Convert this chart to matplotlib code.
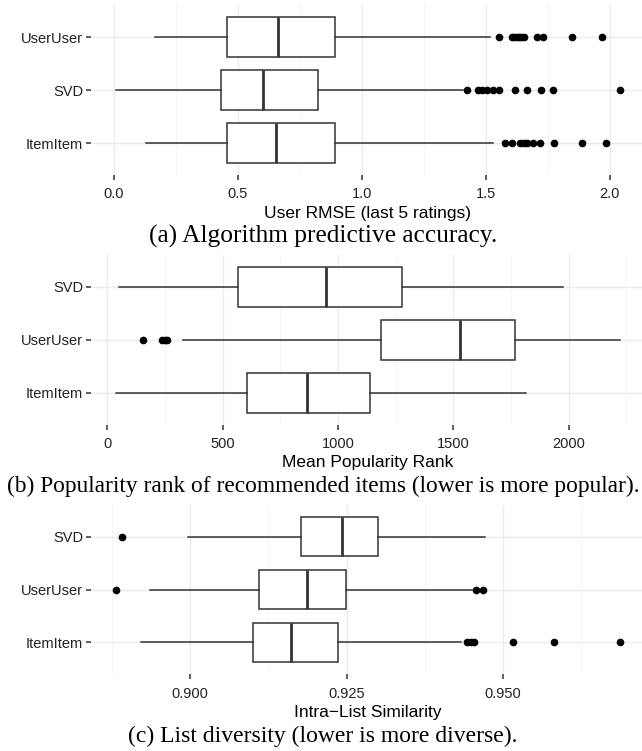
import matplotlib
matplotlib.use("Agg")
import matplotlib.pyplot as plt
from matplotlib.ticker import MultipleLocator

plt.rcParams['font.family'] = ['Liberation Sans', 'DejaVu Sans']

# panel (a): user RMSE, rows listed top to bottom
rmse_algos = ["UserUser", "SVD", "ItemItem"]
rmse_whislo = [0.166, 0.009, 0.130]
rmse_q1 = [0.456, 0.430, 0.455]
rmse_med = [0.663, 0.601, 0.654]
rmse_q3 = [0.890, 0.825, 0.890]
rmse_whishi = [1.516, 1.410, 1.531]
rmse_fliers = [
    [1.553, 1.605, 1.615, 1.625, 1.633, 1.643, 1.655, 1.708, 1.732, 1.848, 1.971],
    [1.426, 1.468, 1.486, 1.504, 1.531, 1.555, 1.617, 1.665, 1.724, 1.772, 2.040],
    [1.576, 1.606, 1.640, 1.655, 1.668, 1.690, 1.718, 1.774, 1.890, 1.986],
]

# panel (b): mean popularity rank
pop_algos = ["SVD", "UserUser", "ItemItem"]
pop_whislo = [52, 327, 38]
pop_q1 = [567, 1187, 606]
pop_med = [949, 1530, 864]
pop_q3 = [1276, 1766, 1140]
pop_whishi = [1976, 2221, 1817]
pop_fliers = [[], [153, 238, 248, 257], []]

# panel (c): intra-list similarity
ils_algos = ["SVD", "UserUser", "ItemItem"]
ils_whislo = [0.8997, 0.8936, 0.8921]
ils_q1 = [0.9178, 0.9110, 0.9101]
ils_med = [0.9242, 0.9187, 0.9161]
ils_q3 = [0.9300, 0.9249, 0.9236]
ils_whishi = [0.9471, 0.9450, 0.9433]
ils_fliers = [
    [0.8892],
    [0.8882, 0.9456, 0.9468],
    [0.9443, 0.9448, 0.9454, 0.9516, 0.9582, 0.9686],
]

W, H = 642, 751
fig = plt.figure(figsize=(W / 100, H / 100), dpi=100)
renderer = fig.canvas.get_renderer()

dark = '#333333'


def caption_text(y, text, width_px):
    # size the serif caption so it spans the same width as in the reference
    t = fig.text(323 / W, 1 - y / H, text, ha='center', va='center',
                 family=['Liberation Serif', 'DejaVu Serif'], fontsize=18)
    w = t.get_window_extent(renderer).width
    t.set_fontsize(18 * width_px / w)
    return t


def panel(top, bottom, algos, wlo, q1, med, q3, whi, fliers,
          major, minor, fmt, xlabel, caption, cap_width):
    left, right = 91, 644.7
    ax = fig.add_axes([left / W, 1 - bottom / H, (right - left) / W, (bottom - top) / H])
    n = len(algos)
    pos = list(range(n, 0, -1))
    stats = []
    for i in range(n):
        stats.append(dict(label=algos[i], whislo=wlo[i], q1=q1[i], med=med[i],
                          q3=q3[i], whishi=whi[i], fliers=fliers[i]))
    ax.bxp(stats, positions=pos, widths=0.75, orientation='horizontal',
           showcaps=False, patch_artist=True,
           boxprops=dict(facecolor='white', edgecolor=dark, linewidth=1.1),
           whiskerprops=dict(color=dark, linewidth=1.1),
           medianprops=dict(color=dark, linewidth=2.0),
           flierprops=dict(marker='o', markerfacecolor='black', markeredgecolor='black',
                           markersize=4.5),
           zorder=3)
    all_lo = list(wlo) + [v for f in fliers for v in f]
    all_hi = list(whi) + [v for f in fliers for v in f]
    lo, hi = min(all_lo), max(all_hi)
    pad = 0.05 * (hi - lo)
    ax.set_xlim(lo - pad, hi + pad)
    ax.set_ylim(0.4, n + 0.6)
    ax.set_yticks(pos)
    ax.set_yticklabels(algos)
    ax.xaxis.set_major_locator(MultipleLocator(major))
    ax.xaxis.set_minor_locator(MultipleLocator(minor))
    ax.xaxis.set_major_formatter(fmt)
    ax.grid(True, which='major', color='#EBEBEB', linewidth=1.0, zorder=0)
    ax.grid(True, which='minor', axis='x', color='#F2F2F2', linewidth=0.6, zorder=0)
    ax.set_axisbelow(True)
    for s in ax.spines.values():
        s.set_visible(False)
    ax.tick_params(axis='both', which='major', length=3.6, width=1.1, color=dark,
                   labelsize=10.5, labelcolor='#222222')
    ax.tick_params(axis='y', pad=2)
    ax.tick_params(axis='x', pad=5.5)
    ax.tick_params(axis='x', which='minor', length=0)
    ax.set_xlabel(xlabel, fontsize=12.5, labelpad=3)
    caption_text(bottom + 62, caption, cap_width)
    return ax


panel(5.2, 174.8, rmse_algos, rmse_whislo, rmse_q1, rmse_med, rmse_q3, rmse_whishi,
      rmse_fliers, 0.5, 0.25, lambda v, p: f"{v:.1f}",
      "User RMSE (last 5 ratings)", "(a) Algorithm predictive accuracy.", 348)
panel(255, 424.5, pop_algos, pop_whislo, pop_q1, pop_med, pop_q3, pop_whishi,
      pop_fliers, 500, 250, lambda v, p: f"{v:.0f}",
      "Mean Popularity Rank",
      "(b) Popularity rank of recommended items (lower is more popular).", 632)
panel(505, 674, ils_algos, ils_whislo, ils_q1, ils_med, ils_q3, ils_whishi,
      ils_fliers, 0.025, 0.0125, lambda v, p: f"{v:.3f}",
      "Intra\u2212List Similarity", "(c) List diversity (lower is more diverse).", 390)

fig.savefig("out.png", dpi=100)
